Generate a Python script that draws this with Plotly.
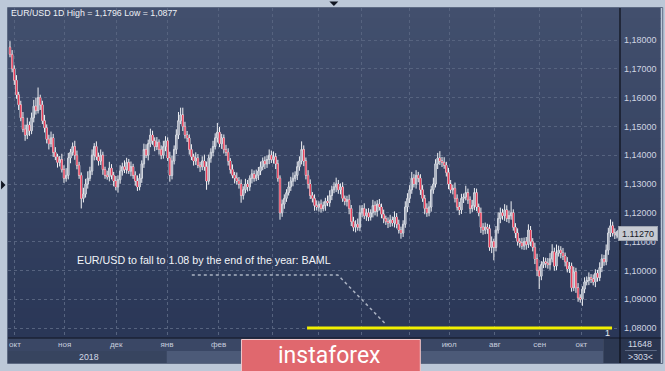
import plotly.graph_objects as go

# ---------------- data (prices in 1/10000 units) ----------------
first_open = 11775
close_pips = [
    11750, 11700, 11660, 11610, 11575, 11530, 11490, 11470, 11505, 11485, 11530, 11570, 11555, 11600, 11575, 11520, 11495, 11455, 11440, 11460,
    11410, 11395, 11375, 11385, 11350, 11320, 11330, 11390, 11410, 11430, 11400, 11365, 11330, 11250, 11265, 11300, 11320, 11345, 11400, 11430,
    11395, 11380, 11400, 11350, 11330, 11325, 11355, 11330, 11310, 11290, 11315, 11345, 11360, 11350, 11375, 11345, 11360, 11330, 11310, 11290,
    11320, 11370, 11420, 11400, 11440, 11470, 11450, 11430, 11445, 11420, 11400, 11430, 11450, 11390, 11330, 11380, 11420, 11470, 11520, 11540,
    11500, 11470, 11460, 11420, 11395, 11380, 11390, 11365, 11360, 11380, 11360, 11310, 11390, 11410, 11430, 11460, 11480, 11440, 11460, 11420,
    11410, 11380, 11350, 11330, 11320, 11310, 11300, 11260, 11280, 11300, 11290, 11320, 11335, 11320, 11330, 11345, 11360, 11380, 11370, 11385,
    11400, 11385, 11395, 11370, 11320, 11200, 11230, 11250, 11270, 11290, 11310, 11320, 11330, 11360, 11380, 11420, 11380, 11330, 11300, 11260,
    11250, 11225, 11220, 11230, 11215, 11225, 11240, 11235, 11260, 11280, 11290, 11300, 11280, 11290, 11250, 11240, 11245, 11215, 11170, 11150,
    11160, 11150, 11200, 11215, 11190, 11200, 11185, 11200, 11225, 11205, 11230, 11220, 11195, 11180, 11170, 11165, 11175, 11165, 11185, 11160,
    11140, 11130, 11160, 11220, 11250, 11280, 11320, 11300, 11330, 11320, 11280, 11250, 11215, 11200, 11220, 11280, 11300, 11370, 11390, 11380,
    11375, 11365, 11340, 11300, 11280, 11285, 11250, 11220, 11210, 11250, 11255, 11270, 11245, 11215, 11225, 11270, 11220, 11200, 11150, 11140,
    11150, 11145, 11080, 11100, 11080, 11140, 11180, 11200, 11190, 11210, 11180, 11190, 11200, 11150, 11130, 11100, 11095, 11085, 11100, 11090,
    11140, 11100, 11080, 11040, 11000, 10980, 11020, 11030, 11025, 11020, 11040, 11065, 11015, 11060, 11070, 11060, 11050, 11030, 11005, 11015,
    10940, 10995, 10940, 10905, 10900, 10935, 10960, 10965, 10975, 10970, 10960, 10990, 10975, 11010, 11040, 11030, 11070, 11130, 11155, 11130,
    11125, 11127,
]
upper_wick = [
    21, 15, 12, 18, 10, 14, 20, 16, 25, 12, 18, 22, 30, 35, 10, 14, 20, 12, 16, 22,
    14, 18, 10, 12, 20, 15, 25, 18, 12, 14, 20, 16, 12, 10, 22, 18, 24, 15, 20, 12,
    18, 14, 20, 12, 10, 16, 22, 14, 12, 18, 15, 20, 14, 22, 16, 12, 18, 10, 14, 20,
    16, 12, 20, 18, 14, 22, 15, 12, 18, 10, 14, 20, 16, 12, 22, 18, 14, 20, 30, 25,
    25, 16, 14, 12, 18, 10, 20, 14, 12, 16, 22, 18, 12, 14, 20, 16, 32, 18, 14, 12,
    16, 14, 10, 18, 12, 20, 14, 16, 12, 18, 14, 10, 16, 12, 20, 14, 18, 12, 16, 14,
    20, 16, 18, 12, 14, 10, 16, 14, 12, 18, 15, 20, 14, 18, 16, 28, 14, 12, 18, 16,
    12, 14, 18, 10, 16, 14, 12, 20, 18, 14, 16, 22, 14, 12, 16, 10, 14, 18, 12, 16,
    14, 20, 26, 12, 18, 14, 16, 12, 20, 15, 14, 18, 12, 16, 10, 14, 18, 12, 20, 14,
    16, 12, 14, 20, 18, 16, 22, 14, 18, 12, 14, 16, 12, 18, 20, 14, 22, 16, 18, 24,
    14, 18, 12, 16, 14, 12, 20, 14, 18, 16, 12, 24, 14, 12, 20, 16, 14, 12, 18, 14,
    16, 12, 14, 18, 10, 14, 22, 18, 14, 20, 16, 18, 40, 12, 14, 16, 12, 18, 14, 16,
    20, 14, 12, 16, 18, 14, 12, 16, 14, 18, 20, 26, 14, 30, 16, 14, 18, 12, 16, 14,
    12, 18, 14, 16, 12, 10, 16, 14, 18, 12, 16, 14, 12, 18, 16, 14, 20, 18, 22, 14,
    16, 10,
]
lower_wick = [
    10, 12, 16, 14, 18, 12, 10, 20, 14, 18, 12, 16, 14, 10, 18, 12, 16, 14, 20, 12,
    16, 12, 18, 14, 10, 16, 12, 14, 18, 12, 16, 14, 12, 35, 14, 12, 16, 10, 14, 18,
    12, 16, 14, 18, 12, 10, 16, 14, 18, 12, 20, 14, 16, 12, 14, 10, 18, 12, 16, 14,
    12, 16, 14, 10, 18, 12, 14, 16, 12, 18, 14, 12, 16, 10, 22, 14, 12, 16, 14, 12,
    16, 12, 14, 18, 12, 16, 14, 10, 18, 12, 14, 30, 12, 16, 14, 10, 16, 12, 18, 14,
    12, 16, 14, 10, 18, 12, 16, 25, 14, 12, 16, 14, 18, 12, 10, 16, 14, 12, 18, 14,
    16, 12, 14, 18, 12, 24, 14, 16, 12, 10, 14, 18, 12, 16, 14, 12, 18, 14, 16, 12,
    14, 18, 12, 16, 14, 10, 18, 12, 14, 16, 12, 18, 14, 16, 12, 14, 18, 20, 16, 14,
    18, 12, 14, 16, 12, 18, 14, 12, 16, 14, 18, 12, 14, 16, 12, 18, 14, 12, 16, 14,
    12, 20, 14, 12, 18, 16, 14, 12, 16, 14, 18, 12, 20, 14, 12, 16, 14, 12, 18, 14,
    16, 12, 14, 18, 12, 16, 14, 12, 18, 14, 16, 12, 14, 18, 12, 16, 14, 12, 20, 16,
    14, 18, 12, 20, 45, 14, 12, 16, 14, 18, 12, 16, 14, 12, 18, 14, 16, 12, 14, 18,
    12, 16, 14, 18, 20, 45, 14, 12, 16, 14, 18, 12, 16, 14, 12, 18, 14, 16, 12, 14,
    14, 12, 18, 14, 12, 23, 14, 12, 16, 14, 12, 18, 14, 12, 16, 14, 12, 16, 14, 12,
    16, 14,
]
# month grid positions (candle index); labels hidden behind the logo are blank
month_labels = ["окт", "ноя", "дек", "янв", "фев", "", "", "", "", "июл", "авг", "сен", "окт"]
month_pos = [2.3, 25.3, 49.2, 72.7, 96.6, 121.4, 142.6, 162.8, 184.9, 203.3, 224.5, 245.2, 264.5]
price_ticks = [1.08, 1.09, 1.10, 1.11, 1.12, 1.13, 1.14, 1.15, 1.16, 1.17, 1.18]
price_tick_text = ["1,08000", "1,09000", "1,10000", "1,11000", "1,12000", "1,13000",
                   "1,14000", "1,15000", "1,16000", "1,17000", "1,18000"]
last_price = 1.1127
target_level = 1.08

# ---------------- build OHLC ----------------
closes = [c / 10000 for c in close_pips]
opens = [first_open / 10000] + closes[:-1]
highs = [max(o, c) + u / 10000 for o, c, u in zip(opens, closes, upper_wick)]
lows = [min(o, c) - l / 10000 for o, c, l in zip(opens, closes, lower_wick)]
xs = list(range(len(closes)))

W, H = 665, 371
PL, PR, PT, PB = 8, 624, 8, 338


def px(x):
    return (x - PL) / (PR - PL)


def py(y):
    return (PB - y) / (PB - PT)


fig = go.Figure()
# outlines + wicks
fig.add_trace(go.Candlestick(
    x=xs, open=opens, high=highs, low=lows, close=closes,
    increasing=dict(line=dict(color="#eef0f4", width=1), fillcolor="#9aa2b4"),
    decreasing=dict(line=dict(color="#f4f4f6", width=1), fillcolor="#e8405a"),
    whiskerwidth=0, hoverinfo="skip", showlegend=False,
))
# body fills on top (bearish red, bullish grey)
fig.add_trace(go.Candlestick(
    x=xs, open=opens, high=highs, low=lows, close=closes,
    increasing=dict(line=dict(color="rgba(0,0,0,0)", width=0), fillcolor="rgba(150,158,176,0.55)"),
    decreasing=dict(line=dict(color="rgba(0,0,0,0)", width=0), fillcolor="#e63d58"),
    whiskerwidth=0, hoverinfo="skip", showlegend=False,
))

shapes = []
# outer panel gradient (plot + right price panel)
nb = 33
c0 = (66, 79, 109)
c1 = (42, 55, 87)
for k in range(nb):
    t = k / (nb - 1)
    col = tuple(round(a + (b - a) * t) for a, b in zip(c0, c1))
    y0 = PT + (PB - PT) * k / nb
    y1 = PT + (PB - PT) * (k + 1) / nb + 0.5
    shapes.append(dict(type="rect", xref="paper", yref="paper", layer="below",
                       x0=px(PL), x1=px(W), y0=py(y1), y1=py(y0),
                       fillcolor="rgb(%d,%d,%d)" % col, line=dict(width=0)))
# axis panel rows
shapes += [
    dict(type="rect", xref="paper", yref="paper", layer="below", x0=px(PL), x1=px(607), y0=py(351), y1=py(PB),
         fillcolor="#3a4765", line=dict(width=0)),
    dict(type="rect", xref="paper", yref="paper", layer="below", x0=px(PL), x1=px(168), y0=py(363), y1=py(351),
         fillcolor="#37445f", line=dict(width=0)),
    dict(type="rect", xref="paper", yref="paper", layer="below", x0=px(168), x1=px(607), y0=py(363), y1=py(351),
         fillcolor="#4c5a78", line=dict(width=0)),
    dict(type="rect", xref="paper", yref="paper", layer="below", x0=px(607), x1=px(PR), y0=py(363), y1=py(PB),
         fillcolor="#2c3852", line=dict(width=0)),
    dict(type="rect", xref="paper", yref="paper", layer="below", x0=px(PR), x1=px(W), y0=py(363), y1=py(PB),
         fillcolor="#2a354f", line=dict(width=0)),
    # separators
    dict(type="line", xref="paper", yref="paper", layer="above", x0=px(PL), x1=px(W), y0=py(PB), y1=py(PB),
         line=dict(color="#1b2234", width=1.5)),
    dict(type="line", xref="paper", yref="paper", layer="above", x0=px(PR), x1=px(PR), y0=py(PT), y1=py(363),
         line=dict(color="#0c0f18", width=1.2)),
    dict(type="line", xref="paper", yref="paper", layer="above", x0=px(629), x1=px(661), y0=py(350.5), y1=py(350.5),
         line=dict(color="#5b6782", width=1)),
    # panel border
    dict(type="rect", xref="paper", yref="paper", layer="above", x0=px(7.5), x1=px(W + 2), y0=py(363.5), y1=py(7.5),
         fillcolor="rgba(0,0,0,0)", line=dict(color="#5d6a83", width=1)),
    # dotted pointer line
    dict(type="path", xref="paper", yref="paper", layer="above",
         path="M %f,%f L %f,%f L %f,%f" % (px(193), py(275), px(340), py(275), px(389), py(325)),
         line=dict(color="#aab2c2", width=1.5, dash="dot")),
    # target level line
    dict(type="line", xref="paper", yref="y", layer="above", x0=px(309), x1=px(616), y0=target_level, y1=target_level,
         line=dict(color="#f2f000", width=3)),
    # price marker arrow
    dict(type="path", xref="paper", yref="paper", layer="above",
         path="M %f,%f L %f,%f L %f,%f Z" % (px(618), py(233.8), px(623), py(228.5), px(623), py(239.1)),
         fillcolor="#c6cad2", line=dict(width=0)),
    # logo box
    dict(type="rect", xref="paper", yref="paper", layer="above", x0=px(243), x1=px(423), y0=py(373), y1=py(339.5),
         fillcolor="#e0686e", line=dict(color="#f2c9cb", width=1)),
    # UI triangles
    dict(type="path", xref="paper", yref="paper", layer="above",
         path="M %f,%f L %f,%f L %f,%f Z" % (px(331.5), py(1.5), px(340.5), py(1.5), px(336), py(6)),
         fillcolor="#111622", line=dict(width=0)),
    dict(type="path", xref="paper", yref="paper", layer="above",
         path="M %f,%f L %f,%f L %f,%f Z" % (px(1), py(180.5), px(1), py(189.5), px(5.5), py(185)),
         fillcolor="#111622", line=dict(width=0)),
]

FONT = "Liberation Sans, Arial, sans-serif"
annotations = [
    dict(xref="paper", yref="paper", x=px(9), y=py(13), xanchor="left", yanchor="middle", showarrow=False,
         text="EUR/USD 1D High = 1,1796 Low = 1,0877", font=dict(family=FONT, size=8.8, color="#eef1f6")),
    dict(xref="paper", yref="paper", x=px(75.5), y=py(260), xanchor="left", yanchor="middle", showarrow=False,
         text="EUR/USD to fall to 1.08 by the end of the year: BAML", font=dict(family=FONT, size=10.7, color="#f2f4f8")),
    dict(xref="paper", yref="paper", x=px(611), y=py(333), xanchor="center", yanchor="middle", showarrow=False,
         text="1", font=dict(family=FONT, size=9, color="#e8ecf2")),
    dict(xref="paper", yref="y", x=px(642.5), y=last_price, xanchor="center", yanchor="middle", showarrow=False,
         text="1.11270", font=dict(family=FONT, size=9, color="#15181f"), bgcolor="#c6cad2",
         bordercolor="#9ea4b0", borderwidth=1, borderpad=1, width=36, height=11),
    dict(xref="paper", yref="paper", x=px(90), y=py(356.5), xanchor="center", yanchor="middle", showarrow=False,
         text="2018", font=dict(family=FONT, size=8.8, color="#d3d9e5")),
    dict(xref="paper", yref="paper", x=px(644.5), y=py(344), xanchor="center", yanchor="middle", showarrow=False,
         text="11648", font=dict(family=FONT, size=8.8, color="#d3d9e5")),
    dict(xref="paper", yref="paper", x=px(644.5), y=py(357), xanchor="center", yanchor="middle", showarrow=False,
         text="&gt;303&lt;", font=dict(family=FONT, size=8.8, color="#d3d9e5")),
    dict(xref="paper", yref="paper", x=px(332), y=py(355.5), xanchor="center", yanchor="middle", showarrow=False,
         text="instaforex", font=dict(family="Roboto, Open Sans, sans-serif", size=23, color="#ffffff")),
]

fig.update_layout(
    width=W, height=H,
    margin=dict(l=PL, r=W - PR, t=PT, b=H - PB, pad=0),
    paper_bgcolor="#bcc8d8",
    plot_bgcolor="rgba(0,0,0,0)",
    showlegend=False,
    boxgap=0.1,
    boxmode="overlay",
    shapes=shapes,
    annotations=annotations,
    xaxis=dict(
        range=[-0.92, 282.4], tickmode="array", tickvals=month_pos, ticktext=month_labels,
        showgrid=True, gridcolor="#56637f", griddash="dot", gridwidth=1,
        zeroline=False, showline=False, ticks="", rangeslider=dict(visible=False),
        tickfont=dict(family=FONT, size=8, color="#c6cddd"), fixedrange=True,
    ),
    yaxis=dict(
        side="right", range=[1.076528, 1.191111], tickmode="array", tickvals=price_ticks,
        ticktext=price_tick_text, showgrid=True, gridcolor="#56637f", griddash="dot", gridwidth=1,
        zeroline=False, showline=False, ticks="", ticklabelstandoff=3,
        tickfont=dict(family=FONT, size=9, color="#cfd5e2"), fixedrange=True,
    ),
)

fig.write_html("out.html")
